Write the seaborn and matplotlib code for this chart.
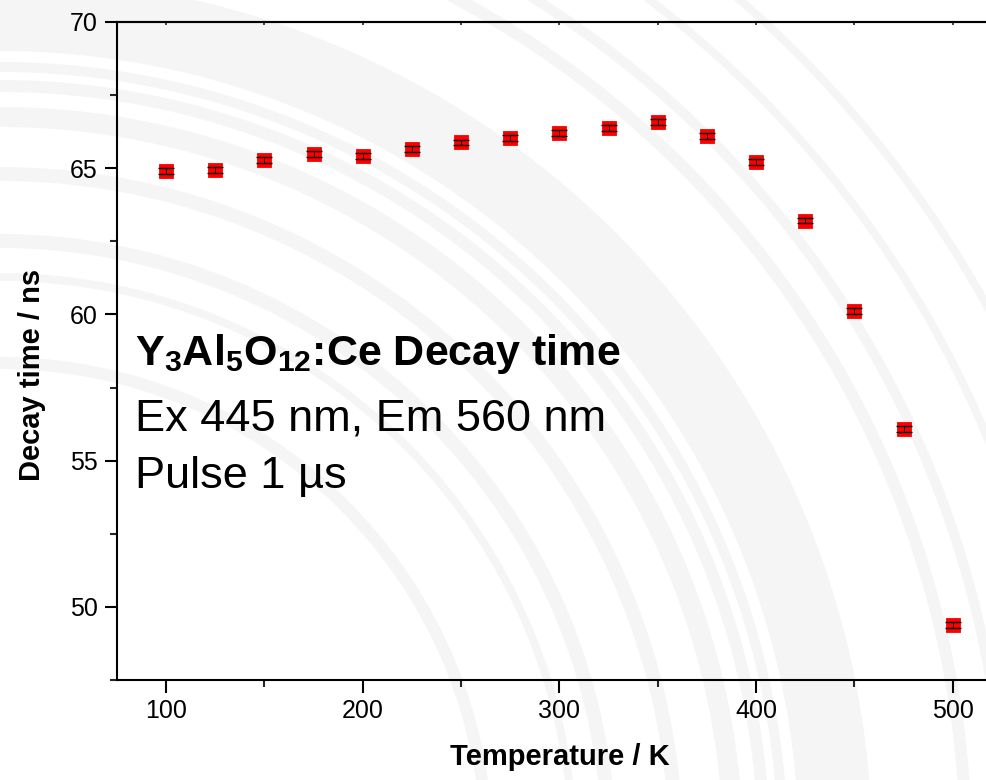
import pandas as pd
import seaborn as sns
import matplotlib
matplotlib.use("Agg")
import matplotlib.pyplot as plt
from matplotlib.patches import Wedge
from matplotlib.ticker import MultipleLocator

# data
temperature = [100, 125, 150, 175, 200, 225, 250, 275, 300, 325, 350, 375, 400, 425, 450, 475, 500]
decay_time = [64.90, 64.94, 65.29, 65.50, 65.41, 65.65, 65.88, 66.02, 66.19, 66.37, 66.57, 66.10, 65.20, 63.21, 60.13, 56.09, 49.38]
decay_err = [0.10, 0.10, 0.10, 0.10, 0.10, 0.11, 0.10, 0.10, 0.10, 0.10, 0.10, 0.10, 0.10, 0.10, 0.10, 0.10, 0.10]

# watermark rings (pixels, centre below lower-left corner)
ring_radius = [493, 577, 616, 683, 743, 770, 788, 813, 872, 972, 1010, 1074, 1131]
ring_width = [12, 8, 14, 14, 20, 12, 10, 14, 60, 12, 10, 8, 8]

sns.set_style("ticks")
plt.rcParams['font.family'] = ['Liberation Sans', 'DejaVu Sans']
plt.rcParams['text.color'] = 'black'
plt.rcParams['axes.labelcolor'] = 'black'
plt.rcParams['mathtext.fontset'] = 'custom'
plt.rcParams['mathtext.rm'] = 'Liberation Sans'
plt.rcParams['mathtext.bf'] = 'Liberation Sans:bold'
plt.rcParams['mathtext.it'] = 'Liberation Sans:italic'

fig = plt.figure(figsize=(9.87, 7.8), dpi=100)
fig.patch.set_facecolor('white')

for r, w in zip(ring_radius, ring_width):
    fig.add_artist(Wedge((0.0, -0.7), r / 100, 0, 360, width=w / 100,
                         transform=fig.dpi_scale_trans, facecolor='#f5f5f5',
                         edgecolor='none', zorder=0))

ax = fig.add_axes([117 / 987, 100 / 780, 885 / 987, 658 / 780])
ax.set_facecolor('none')

df = pd.DataFrame({'Temperature': temperature, 'Decay': decay_time, 'Err': decay_err})
sns.scatterplot(data=df, x='Temperature', y='Decay', marker='s', s=95, color='red',
                edgecolor='red', linewidth=0.6, ax=ax, zorder=2)
ax.errorbar(df['Temperature'], df['Decay'], yerr=df['Err'], fmt='none', ecolor='black',
            elinewidth=0.6, capsize=5.5, capthick=1.0, zorder=3)

ax.set_xlim(75, 525)
ax.set_ylim(47.5, 70)
ax.xaxis.set_major_locator(MultipleLocator(100))
ax.xaxis.set_minor_locator(MultipleLocator(50))
ax.yaxis.set_major_locator(MultipleLocator(5))
ax.yaxis.set_minor_locator(MultipleLocator(2.5))

for s in ax.spines.values():
    s.set_linewidth(1.5)
    s.set_color('black')

ax.tick_params(which='major', direction='out', length=9, width=1.5, labelsize=18, pad=5, colors='black')
ax.tick_params(which='minor', direction='out', length=5, width=1.5)

top = ax.secondary_xaxis('top')
top.set_xticks(list(range(100, 525, 50)))
top.tick_params(direction='in', length=2.5, width=1.2, labeltop=False)
top.spines['top'].set_linewidth(1.5)

ax.set_xlabel('Temperature / K', fontsize=21, fontweight='bold')
ax.set_ylabel('Decay time / ns', fontsize=21, fontweight='bold')
ax.xaxis.set_label_coords(0.5, (680 - 743) / 658)
ax.yaxis.set_label_coords((46 - 117) / 885, (680 - 375) / 658)

fig.text(135 / 987, 1 - 365 / 780, r'$\mathbf{Y_3Al_5O_{12}}$:Ce Decay time',
         fontsize=31, fontweight='bold', va='baseline', ha='left')
fig.text(135 / 987, 1 - 430 / 780, 'Ex 445 nm, Em 560 nm', fontsize=32.5, va='baseline', ha='left')
fig.text(135 / 987, 1 - 488 / 780, 'Pulse 1 µs', fontsize=32.5, va='baseline', ha='left')

fig.savefig('out.png', dpi=100)
